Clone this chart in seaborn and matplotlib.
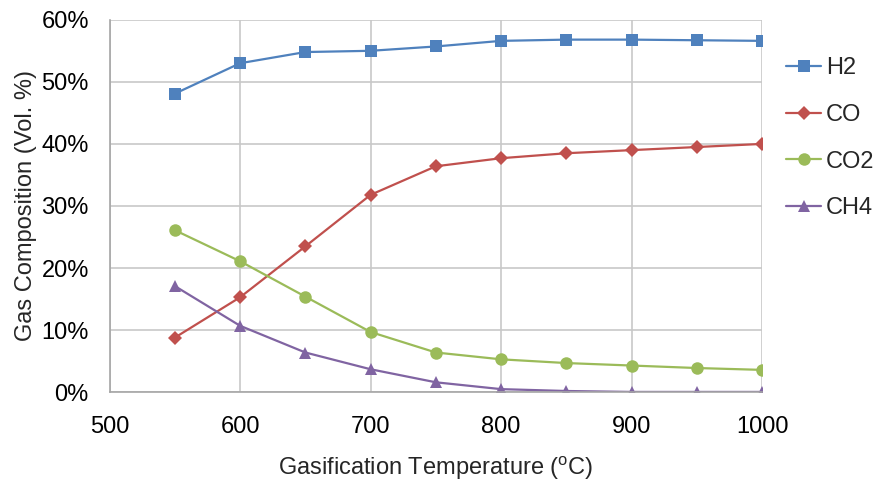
import matplotlib
matplotlib.use("Agg")
import matplotlib.pyplot as plt
import seaborn as sns
import pandas as pd
from matplotlib.ticker import PercentFormatter

temperature = [550, 600, 650, 700, 750, 800, 850, 900, 950, 1000]
h2 = [48.1, 53.0, 54.8, 55.0, 55.7, 56.6, 56.8, 56.8, 56.7, 56.6]
co = [8.8, 15.3, 23.5, 31.8, 36.4, 37.7, 38.5, 39.0, 39.5, 40.0]
co2 = [26.1, 21.1, 15.4, 9.7, 6.4, 5.3, 4.7, 4.3, 3.9, 3.6]
ch4 = [17.1, 10.7, 6.4, 3.7, 1.6, 0.5, 0.2, 0.05, 0.05, 0.05]

series_names = ["H2", "CO", "CO2", "CH4"]
series_values = [h2, co, co2, ch4]
colors = ["#4F81BD", "#C0504D", "#9BBB59", "#8064A2"]
markers = ["s", "D", "o", "^"]

rows = []
for name, vals in zip(series_names, series_values):
    for t, v in zip(temperature, vals):
        rows.append({"Temperature": t, "Value": v, "Gas": name})
df = pd.DataFrame(rows)

sns.set_theme(style="white")
plt.rcParams["font.family"] = ["Liberation Sans", "DejaVu Sans"]

fig = plt.figure(figsize=(8.77, 4.94), dpi=100)
ax = fig.add_axes([0.125, 0.206, 0.744, 0.754])

sns.lineplot(data=df, x="Temperature", y="Value", hue="Gas", style="Gas",
             hue_order=series_names, style_order=series_names,
             palette=dict(zip(series_names, colors)),
             markers=dict(zip(series_names, markers)),
             dashes=False, linewidth=1.6, markersize=9, markeredgewidth=0,
             ax=ax, legend=True)

for line in ax.get_lines():
    if line.get_marker() == "D":
        line.set_markersize(7)

ax.set_xlim(500, 1000)
ax.set_ylim(0, 60)
ax.set_xticks(range(500, 1001, 100))
ax.set_yticks(range(0, 61, 10))
ax.yaxis.set_major_formatter(PercentFormatter(decimals=0))
ax.grid(True, color="#C8C8C8", linewidth=1.2)
ax.set_axisbelow(True)
for s in ["top", "right"]:
    ax.spines[s].set_visible(False)
for s in ["left", "bottom"]:
    ax.spines[s].set_color("#A6A6A6")
    ax.spines[s].set_linewidth(1.2)

ax.tick_params(axis="both", labelsize=17, colors="black", length=0)
ax.tick_params(axis="x", pad=17)
ax.tick_params(axis="y", pad=15)
ax.set_xlabel("Gasification Temperature ($^{\\mathregular{o}}$C)", fontsize=17, labelpad=12)
ax.set_ylabel("Gas Composition (Vol. %)", fontsize=17, labelpad=3)

handles, labels = ax.get_legend_handles_labels()
ax.get_legend().remove()
for h in handles:
    if h.get_marker() == "D":
        h.set_markersize(7)
leg = fig.legend(handles, labels, loc="upper left", bbox_to_anchor=(786 / 877, 1 - 57 / 494),
                 bbox_transform=fig.transFigure,
                 frameon=False, fontsize=17, labelspacing=1.05, handlelength=1.5,
                 handletextpad=0.2, borderpad=0, borderaxespad=0)

fig.savefig("out.png", dpi=100)
